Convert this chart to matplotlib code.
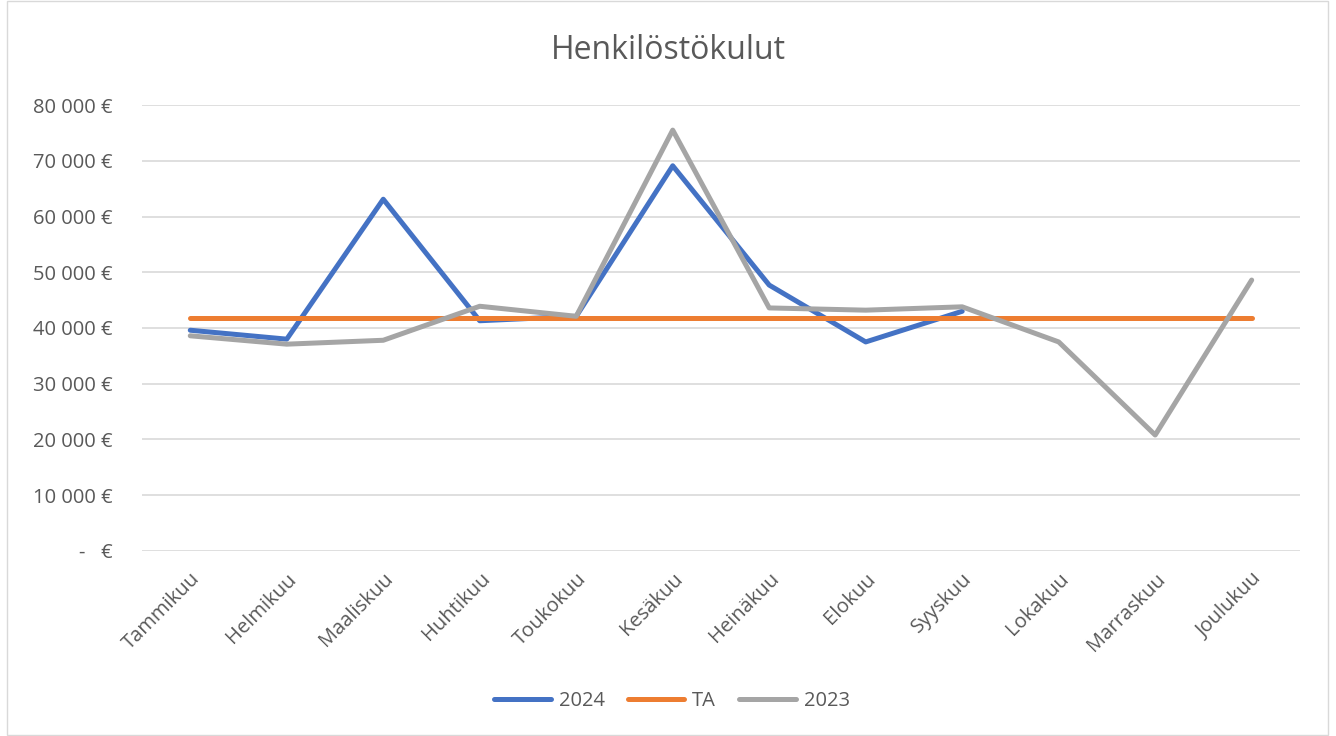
import matplotlib.pyplot as plt
from matplotlib.patches import Rectangle
from matplotlib.ticker import FuncFormatter

months = ["Tammikuu", "Helmikuu", "Maaliskuu", "Huhtikuu", "Toukokuu", "Kesäkuu",
          "Heinäkuu", "Elokuu", "Syyskuu", "Lokakuu", "Marraskuu", "Joulukuu"]
v2024 = [39600, 38000, 63100, 41300, 42100, 69100, 47700, 37500, 43000]
ta = [41800] * 12
v2023 = [38600, 37100, 37800, 43900, 42100, 75500, 43600, 43200, 43800, 37500, 20800, 48600]

text_col = "#595959"
plt.rcParams["font.family"] = ["Open Sans", "DejaVu Sans"]

fig = plt.figure(figsize=(13.36, 7.36), dpi=100)
ax = fig.add_axes([0.1063, 0.2514, 0.8667, 0.6059])

ax.plot(range(len(v2024)), v2024, color="#4472C4", lw=3.6, label="2024",
        solid_capstyle="round", zorder=3)
ax.plot(range(len(ta)), ta, color="#ED7D31", lw=3.6, label="TA",
        solid_capstyle="round", zorder=4)
ax.plot(range(len(v2023)), v2023, color="#A5A5A5", lw=3.6, label="2023",
        solid_capstyle="round", zorder=5)

ax.set_xlim(-0.5, 11.5)
ax.set_ylim(0, 80000)
ax.set_yticks(range(0, 80001, 10000))


def eur(v, pos):
    if v == 0:
        return "-   €"
    return f"{int(v):,} €".replace(",", " ")


ax.yaxis.set_major_formatter(FuncFormatter(eur))
ax.set_xticks(range(12))
ax.set_xticklabels(months, rotation=45, ha="right", rotation_mode="anchor")
ax.tick_params(axis="both", length=0, labelsize=14.5, colors=text_col)
ax.tick_params(axis="y", pad=21)
ax.tick_params(axis="x", pad=13)
ax.grid(axis="y", color="#d9d9d9", lw=1.2)
ax.set_axisbelow(True)
for s in ax.spines.values():
    s.set_visible(False)

fig.text(0.5, 0.932, "Henkilöstökulut", ha="center", va="center",
         fontsize=23, color=text_col)

fig.legend(loc="center", bbox_to_anchor=(0.503, 0.047), ncol=3, frameon=False,
           fontsize=14.5, labelcolor=text_col, handlelength=2.8, handletextpad=0.4,
           columnspacing=1.15)

fig.add_artist(Rectangle((0.005, 0.002), 0.989, 0.996, transform=fig.transFigure,
                         fill=False, edgecolor="#d9d9d9", lw=1))

fig.savefig("out.png", dpi=100)
